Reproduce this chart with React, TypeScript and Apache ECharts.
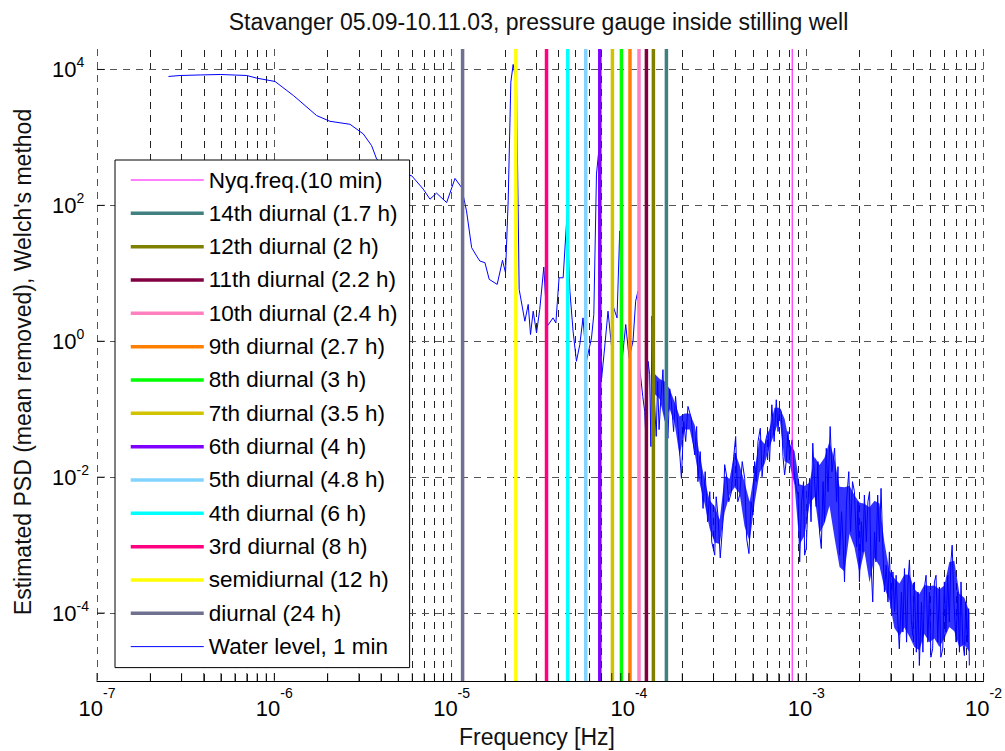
import React, { useEffect, useRef } from 'react';
import * as echarts from 'echarts';

// ---- Data ----
// PSD curve, stored as log10(frequency in Hz) and log10(PSD)
const psdLogFreq = [
  -6.597, -6.531, -6.418, -6.305, -6.155, -6.099, -5.996, -5.892, -5.761, -5.686,
  -5.573, -5.498, -5.451, -5.423, -5.348, -5.225, -5.160, -5.122, -5.085, -5.028,
  -4.981, -4.944, -4.916, -4.887, -4.859, -4.841, -4.812, -4.788, -4.743, -4.713,
  -4.696, -4.681, -4.666, -4.653, -4.634, -4.619, -4.587, -4.568, -4.555, -4.540,
  -4.521, -4.503, -4.480, -4.461, -4.428, -4.412, -4.394, -4.371, -4.349, -4.333,
  -4.315, -4.296, -4.277, -4.259, -4.240, -4.211, -4.198, -4.183, -4.170, -4.161,
  -4.154, -4.137, -4.118, -4.099, -4.086, -4.067, -4.052, -4.037, -4.018, -3.999,
  -3.977, -3.962, -3.949,
  -3.939, -3.922, -3.911, -3.902, -3.892, -3.883, -3.876, -3.870, -3.855, -3.846,
  -3.838, -3.830, -3.821, -3.808, -3.800, -3.793, -3.780, -3.770, -3.761, -3.748,
  -3.737, -3.723, -3.704, -3.691, -3.680, -3.667, -3.648, -3.638, -3.629, -3.618,
  -3.611, -3.598, -3.582, -3.570, -3.556, -3.544, -3.533, -3.516, -3.508, -3.498,
  -3.485, -3.470, -3.460, -3.450, -3.437, -3.422, -3.409, -3.398, -3.386, -3.375,
  -3.361, -3.347, -3.336, -3.323, -3.311, -3.301, -3.291, -3.282, -3.272, -3.259,
  -3.249, -3.235, -3.226, -3.216, -3.207, -3.194, -3.181, -3.169, -3.159, -3.151,
  -3.141, -3.131, -3.122, -3.113, -3.103, -3.094, -3.085, -3.079, -3.069, -3.056,
  -3.046, -3.037, -3.026, -3.015, -3.009, -3.000, -2.990, -2.981, -2.973, -2.963,
  -2.953, -2.944, -2.934, -2.925, -2.915, -2.905, -2.897, -2.887, -2.877, -2.865,
  -2.855, -2.840, -2.829, -2.821, -2.812, -2.801, -2.792, -2.784, -2.773, -2.760,
  -2.750, -2.739, -2.728, -2.716, -2.708, -2.700, -2.689, -2.680, -2.672, -2.661,
  -2.652, -2.643, -2.635, -2.625, -2.615, -2.607, -2.597, -2.587, -2.578, -2.569,
  -2.559, -2.549, -2.539, -2.531, -2.521, -2.511, -2.502, -2.493, -2.483, -2.475,
  -2.463, -2.455, -2.446, -2.434, -2.426, -2.418, -2.407, -2.399, -2.390, -2.379,
  -2.370, -2.362, -2.350, -2.342, -2.333, -2.324, -2.314, -2.305, -2.297, -2.287,
  -2.277, -2.268, -2.258, -2.249, -2.241, -2.230, -2.221, -2.212, -2.202, -2.193,
  -2.184, -2.177, -2.167, -2.155, -2.145, -2.136, -2.127, -2.117, -2.108, -2.100,
  -2.091, -2.084, -2.080,
];
const psdLogValue = [
  3.897, 3.911, 3.919, 3.926, 3.911, 3.872, 3.823, 3.616, 3.321, 3.237,
  3.193, 3.051, 2.878, 2.682, 2.509, 2.435, 2.239, 2.091, 2.180, 2.041,
  2.396, 2.263, 1.919, 1.377, 1.255, 1.181, 1.156, 0.911, 0.837, 1.191,
  1.008, 2.066, 3.813, 4.074, 3.789, 0.763, 0.295, 0.542, 0.099, 0.443,
  0.123, 0.468, 1.092, 0.221, 0.344, 0.270, 0.934, 0.934, 1.870, 0.738,
  0.148, -0.295, -0.049, 0.344, -0.295, 0.049, 0.394, 2.460, 2.804, 0.344,
  -0.542, -0.099, 0.443, -0.049, 0.492, 0.344, 1.624, -0.246, 0.246, -0.246,
  0.000, 0.590, 0.738,
  -0.394, -0.812, -1.033, -1.572, -0.295, -0.492, -1.550, 0.369, -0.935, -1.400,
  -0.590, -1.300, -0.886, -0.418, -1.050, -1.181, -1.427, -0.700, -0.886, -1.329,
  -0.812, -1.279, -2.018, -1.181, -1.476, -0.959, -1.132, -1.476, -1.673, -1.255,
  -2.066, -1.624, -2.460, -1.919, -2.657, -2.214, -2.952, -3.148, -2.288, -2.558,
  -3.188, -2.657, -1.816, -1.968, -2.362, -2.214, -1.697, -1.402, -2.362, -2.263,
  -1.771, -2.018, -2.908, -3.125, -2.362, -2.558, -1.771, -2.066, -1.476, -1.280,
  -1.993, -1.575, -1.427, -1.328, -1.771, -0.935, -1.476, -0.861, -1.328, -0.984,
  -1.033, -1.697, -1.968, -1.771, -1.328, -1.697, -1.525, -1.451, -1.919, -2.165,
  -2.263, -3.247, -2.362, -2.066, -3.148, -3.050, -2.362, -2.018, -2.657, -1.500,
  -2.066, -2.435, -1.771, -2.805, -3.050, -2.066, -2.657, -1.575, -2.214, -1.255,
  -1.919, -1.575, -2.362, -1.845, -3.148, -2.509, -2.952, -3.542, -2.362, -1.919,
  -2.805, -2.066, -2.214, -3.026, -2.362, -3.542, -2.657, -3.100, -2.263, -2.952,
  -2.362, -2.214, -3.247, -3.838, -2.805, -3.247, -2.263, -2.952, -2.165, -2.952,
  -3.690, -3.296, -3.838, -3.100, -3.936, -3.395, -3.985, -3.444, -4.133, -4.527,
  -3.690, -4.280, -3.345, -4.428, -3.542, -3.218, -4.133, -4.329, -3.542, -4.576,
  -3.690, -4.772, -3.838, -4.576, -3.616, -3.444, -4.428, -3.690, -4.650, -4.527,
  -3.542, -3.444, -4.428, -3.616, -4.650, -4.527, -3.542, -4.280, -3.444, -4.133,
  -3.247, -3.001, -3.838, -4.428, -3.690, -4.576, -3.542, -4.428, -4.625, -3.838,
  -4.428, -3.936, -4.772,
];

// Dense part of the spectrum: the core band that the many PSD oscillations fill
// (log10 frequency, log10 of upper and lower edge of the filled core)
const bandLogFreq = [
  -3.855, -3.826, -3.798, -3.770, -3.742, -3.714, -3.686, -3.657, -3.629, -3.601,
  -3.573, -3.545, -3.517, -3.488, -3.460, -3.432, -3.404, -3.376, -3.348, -3.319,
  -3.291, -3.263, -3.235, -3.207, -3.179, -3.150, -3.122, -3.094, -3.066, -3.038,
  -3.010, -2.981, -2.953, -2.925, -2.897, -2.869, -2.841, -2.812, -2.784, -2.756,
  -2.728, -2.700, -2.672, -2.643, -2.615, -2.587, -2.559, -2.531, -2.503, -2.474,
  -2.446, -2.418, -2.390, -2.362, -2.334, -2.305, -2.277, -2.249, -2.221, -2.193,
  -2.165, -2.136, -2.108, -2.080,
];
const bandUpper = [
  -0.480, -0.554, -0.591, -0.701, -0.896, -1.107, -1.063, -1.063, -1.233, -1.676,
  -2.037, -2.340, -2.429, -2.628, -1.986, -2.023, -1.617, -1.823, -2.074, -2.362,
  -1.904, -1.422, -1.513, -1.289, -0.977, -0.978, -1.141, -1.513, -1.614, -2.104,
  -2.129, -2.077, -1.698, -1.823, -1.715, -1.476, -1.737, -2.141, -2.148, -2.126,
  -2.266, -2.374, -2.390, -2.442, -2.349, -2.388, -2.962, -3.376, -3.487, -3.565,
  -3.434, -3.435, -3.649, -3.720, -3.588, -3.602, -3.596, -3.649, -3.596, -3.249,
  -3.230, -3.715, -3.776, -3.985,
];
const bandLower = [
  -0.775, -0.849, -1.181, -0.996, -1.215, -1.697, -1.299, -1.299, -1.646, -2.089,
  -2.391, -2.753, -2.960, -2.982, -2.517, -2.259, -2.148, -2.237, -2.723, -2.952,
  -2.376, -1.930, -1.808, -1.560, -1.355, -1.132, -1.767, -1.808, -2.121, -2.990,
  -2.861, -2.395, -2.288, -2.827, -2.683, -2.421, -2.883, -3.322, -3.387, -2.834,
  -3.033, -3.412, -3.086, -3.552, -3.187, -3.309, -3.636, -3.813, -4.219, -4.332,
  -4.213, -4.345, -4.499, -4.546, -4.309, -4.428, -4.375, -4.499, -4.375, -4.206,
  -4.269, -4.506, -4.461, -4.575,
];

// Tidal harmonic marker lines (Hz)
const harmonicNames = [
  '14th diurnal (1.7 h)', '12th diurnal (2 h)', '11th diurnal (2.2 h)', '10th diurnal (2.4 h)',
  '9th diurnal (2.7 h)', '8th diurnal (3 h)', '7th diurnal (3.5 h)', '6th diurnal (4 h)',
  '5th diurnal (4.8 h)', '4th diurnal (6 h)', '3rd diurnal (8 h)', 'semidiurnal (12 h)', 'diurnal (24 h)',
];
const harmonicFreqs = [
  1.627e-4, 1.374e-4, 1.255e-4, 1.140e-4, 1.014e-4, 9.07e-5, 8.07e-5, 6.85e-5,
  5.71e-5, 4.52e-5, 3.43e-5, 2.303e-5, 1.153e-5,
];
const nyquistName = 'Nyq.freq.(10 min)';
const nyquistFreq = 8.333e-4;
const psdName = 'Water level, 1 min';

// Axis ranges and grid positions
const xMin = 1e-7;
const xMax = 1e-2;
const yMin = 1e-5;
const yMax = 2e4;
const xDecades = [1e-7, 1e-6, 1e-5, 1e-4, 1e-3, 1e-2];
const xMinorGrid = [
  2e-7, 3e-7, 4e-7, 5e-7, 6e-7, 7e-7, 8e-7, 9e-7,
  2e-6, 3e-6, 4e-6, 5e-6, 6e-6, 7e-6, 8e-6, 9e-6,
  2e-5, 3e-5, 4e-5, 5e-5, 6e-5, 7e-5, 8e-5, 9e-5,
  2e-4, 3e-4, 4e-4, 5e-4, 6e-4, 7e-4, 8e-4, 9e-4,
  2e-3, 3e-3, 4e-3, 5e-3, 6e-3, 7e-3, 8e-3, 9e-3,
];
const yGrid = [1e-4, 1e-2, 1, 1e2, 1e4];

const titleText = 'Stavanger 05.09-10.11.03, pressure gauge inside stilling well';
const xName = 'Frequency [Hz]';
const yName = "Estimated PSD (mean removed), Welch's method";

// ---- Styles ----
const FONT = '"Liberation Sans", Arial, Helvetica, sans-serif';
const harmonicColors = [
  '#408080', '#808000', '#800040', '#ff80c0', '#ff8000', '#00ff00', '#d2c300',
  '#8000ff', '#80d4ff', '#00ffff', '#ff0080', '#ffff00', '#707090',
];

export default function App() {
  const ref = useRef<HTMLDivElement>(null);

  useEffect(() => {
    if (!ref.current) return;
    const chart = echarts.init(ref.current, null, { renderer: 'svg' });

    const psdData = psdLogFreq.map((lf, i) => [Math.pow(10, lf), Math.pow(10, psdLogValue[i])]);
    const bandTop = bandLogFreq.map((lf, i) => [Math.pow(10, lf), Math.pow(10, bandUpper[i])]);
    const bandBottom = bandLogFreq.map((lf, i) => [Math.pow(10, lf), Math.pow(10, bandLower[i])]);
    const gridDash = [7, 6];

    const series: any[] = [];
    // dashed grid lines
    series.push({
      name: '__grid',
      type: 'lines',
      coordinateSystem: 'cartesian2d',
      silent: true,
      z: 1,
      lineStyle: { color: '#222', width: 1, type: gridDash, opacity: 1 },
      data: [
        ...xMinorGrid.map((f) => ({ coords: [[f, yMin], [f, yMax]] })),
        ...yGrid.map((v) => ({
          coords: [[xMin, v], [xMax, v]],
          lineStyle: { color: '#555', width: 1, type: gridDash, opacity: 1 },
        })),
      ],
    });
    // filled core of the dense spectrum
    series.push({
      name: '__band',
      type: 'custom',
      silent: true,
      z: 2,
      data: [0],
      renderItem: (_params: any, api: any) => {
        const pts = [
          ...bandTop.map((p) => api.coord(p)),
          ...bandBottom.slice().reverse().map((p) => api.coord(p)),
        ];
        return {
          type: 'polygon',
          shape: { points: pts },
          style: { fill: '#0000ff', opacity: 0.8, stroke: 'none' },
        };
      },
    });
    series.push({
      name: psdName,
      type: 'line',
      data: psdData,
      symbol: 'none',
      showSymbol: false,
      lineStyle: { color: '#0000ff', width: 1 },
      itemStyle: { color: '#0000ff' },
      emphasis: { disabled: true },
      z: 3,
    });
    harmonicFreqs.forEach((f, i) => {
      series.push({
        name: harmonicNames[i],
        type: 'line',
        data: [[f, yMin], [f, yMax]],
        symbol: 'none',
        lineStyle: { color: harmonicColors[i], width: 3.5 },
        itemStyle: { color: harmonicColors[i] },
        emphasis: { disabled: true },
        z: 4,
      });
    });
    series.push({
      name: nyquistName,
      type: 'line',
      data: [[nyquistFreq, yMin], [nyquistFreq, yMax]],
      symbol: 'none',
      lineStyle: { color: '#ff00ff', width: 1 },
      itemStyle: { color: '#ff00ff' },
      emphasis: { disabled: true },
      z: 4,
    });
    // axis tick marks (inward)
    series.push({
      name: '__xticks',
      type: 'scatter',
      data: [...xDecades, ...xMinorGrid].map((f) => [f, yMin]),
      symbol: 'rect',
      symbolSize: [1, 8],
      symbolOffset: [0, -4],
      itemStyle: { color: '#000' },
      silent: true,
      clip: false,
      z: 5,
    });
    series.push({
      name: '__yticks',
      type: 'scatter',
      data: yGrid.map((v) => [xMin, v]),
      symbol: 'rect',
      symbolSize: [8, 1],
      symbolOffset: [4, 0],
      itemStyle: { color: '#000' },
      silent: true,
      clip: false,
      z: 5,
    });

    const expOf = (v: number) => {
      const l = Math.log10(v);
      const r = Math.round(l);
      return Math.abs(l - r) < 1e-4 ? r : null;
    };

    chart.setOption({
      animation: false,
      backgroundColor: '#ffffff',
      textStyle: { fontFamily: FONT },
      grid: { left: 97, right: 21, top: 49, bottom: 70, containLabel: false },
      xAxis: {
        type: 'log',
        logBase: 10,
        min: xMin,
        max: xMax,
        axisLine: { show: true, lineStyle: { color: '#000', width: 1 } },
        axisTick: { show: false },
        splitLine: { show: true, lineStyle: { color: '#555', width: 1, type: gridDash } },
        axisLabel: {
          margin: 15,
          formatter: (v: number) => {
            const e = expOf(v);
            return e === null ? '' : `{b|10}{s|${e}}`;
          },
          rich: {
            b: { fontSize: 22, fontFamily: FONT, color: '#000', lineHeight: 24, verticalAlign: 'middle' },
            s: { fontSize: 14, fontFamily: FONT, color: '#000', lineHeight: 24, verticalAlign: 'middle', padding: [0, 0, 30, 0] },
          },
        },
      },
      yAxis: {
        type: 'log',
        logBase: 10,
        min: yMin,
        max: yMax,
        axisLine: { show: false },
        axisTick: { show: false },
        splitLine: { show: false },
        axisLabel: {
          margin: 45,
          align: 'left',
          formatter: (v: number) => {
            const e = expOf(v);
            if (e === null || Math.abs(e) % 2 !== 0) return '';
            return `{b|10}{s|${e}}`;
          },
          rich: {
            b: { fontSize: 22, fontFamily: FONT, color: '#000', lineHeight: 24, verticalAlign: 'middle' },
            s: { fontSize: 14, fontFamily: FONT, color: '#000', lineHeight: 24, verticalAlign: 'middle', padding: [0, 0, 14, 0] },
          },
        },
      },
      legend: {
        data: [nyquistName, ...harmonicNames, psdName],
        orient: 'vertical',
        left: 115,
        top: 160,
        z: 10,
        selectedMode: false,
        backgroundColor: '#ffffff',
        borderColor: '#000',
        borderWidth: 1,
        borderRadius: 0,
        padding: [8, 12, 9, 14],
        itemWidth: 73,
        itemHeight: 14,
        itemGap: 9.33,
        itemStyle: { opacity: 0 },
        lineStyle: { width: 'inherit' },
        textStyle: { fontSize: 22.5, fontFamily: FONT, color: '#000', lineHeight: 24 },
      },
      graphic: [
        {
          type: 'text',
          x: 538.5,
          y: 21.5,
          style: {
            text: titleText, fontSize: 23, fontFamily: FONT, fill: '#111',
            align: 'center', verticalAlign: 'middle', textAlign: 'center', textVerticalAlign: 'middle',
          },
        },
        {
          type: 'text',
          x: 537,
          y: 737,
          style: {
            text: xName, fontSize: 23, fontFamily: FONT, fill: '#111',
            align: 'center', verticalAlign: 'middle', textAlign: 'center', textVerticalAlign: 'middle',
          },
        },
        {
          type: 'text',
          x: 23,
          y: 362,
          rotation: Math.PI / 2,
          style: {
            text: yName, fontSize: 23, fontFamily: FONT, fill: '#111',
            align: 'center', verticalAlign: 'middle', textAlign: 'center', textVerticalAlign: 'middle',
          },
        },
      ],
      series,
    });

    return () => chart.dispose();
  }, []);

  return (
    <div
      ref={ref}
      style={{ position: 'absolute', left: 0, top: 0, width: 1005, height: 751, background: '#fff' }}
    />
  );
}
